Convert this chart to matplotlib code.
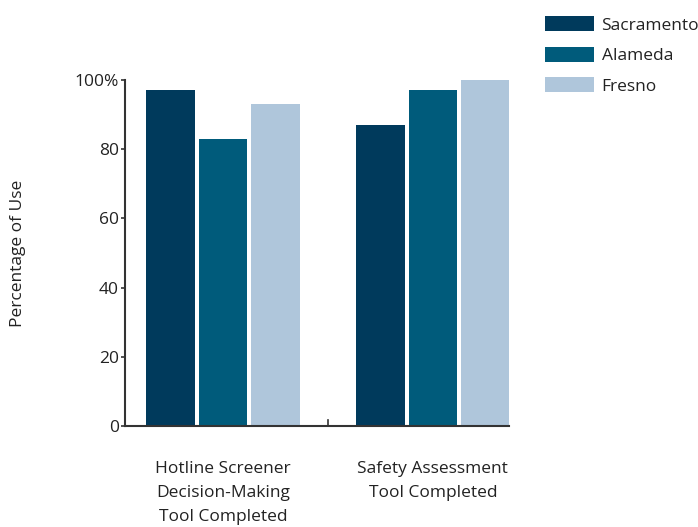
import matplotlib.pyplot as plt
import numpy as np

# donnees
categories = ["Hotline Screener\nDecision-Making\nTool Completed",
              "Safety Assessment\nTool Completed"]
comtes = ["Sacramento", "Alameda", "Fresno"]
sacramento = [97, 87]
alameda = [83, 97]
fresno = [93, 100]
couleurs = ["#003a5c", "#005b7b", "#afc6db"]

plt.rcParams['font.family'] = ['Open Sans', 'DejaVu Sans']

fig = plt.figure(figsize=(6.98, 5.27), dpi=100)
ax = fig.add_axes([0.179, 0.1917, 0.55, 0.6565])

x = np.arange(len(categories))
largeur = 0.23
for i, (serie, nom) in enumerate(zip([sacramento, alameda, fresno], comtes)):
    ax.bar(x + (i - 1) * 0.25, serie, largeur, color=couleurs[i], label=nom)

ax.set_xlim(-0.467, 1.362)
ax.set_ylim(0, 100)
ax.set_yticks([0, 20, 40, 60, 80, 100])
ax.set_yticklabels(["0", "20", "40", "60", "80", "100%"])
ax.set_xticks(x)
ax.set_xticklabels(categories, linespacing=1.7)

# titre de l'axe y
fig.text(18 / 698, 0.52, "Percentage of Use", rotation=90, ha='center',
         va='center', fontsize=12.5, color="#222222")

ax.spines['top'].set_visible(False)
ax.spines['right'].set_visible(False)
for s in ['left', 'bottom']:
    ax.spines[s].set_color("#333333")
    ax.spines[s].set_linewidth(1.5)

ax.tick_params(axis='y', direction='out', length=3, width=1.2, color="#333333",
               labelsize=12.5, labelcolor="#222222", pad=1.5)
ax.tick_params(axis='x', length=0, labelsize=12.5, labelcolor="#222222", pad=25)

# petit trait au milieu de l'axe x
ax.plot([0.5, 0.5], [0, 1.8], color="#333333", lw=1.2, clip_on=False)

fig.legend(loc='upper left', bbox_to_anchor=(0.771, 0.982), frameon=False,
           fontsize=12.5, handlelength=2.8, handleheight=0.95, labelspacing=0.75,
           handletextpad=0.45, borderaxespad=0, labelcolor="#222222")

fig.savefig("out.png", dpi=100)
